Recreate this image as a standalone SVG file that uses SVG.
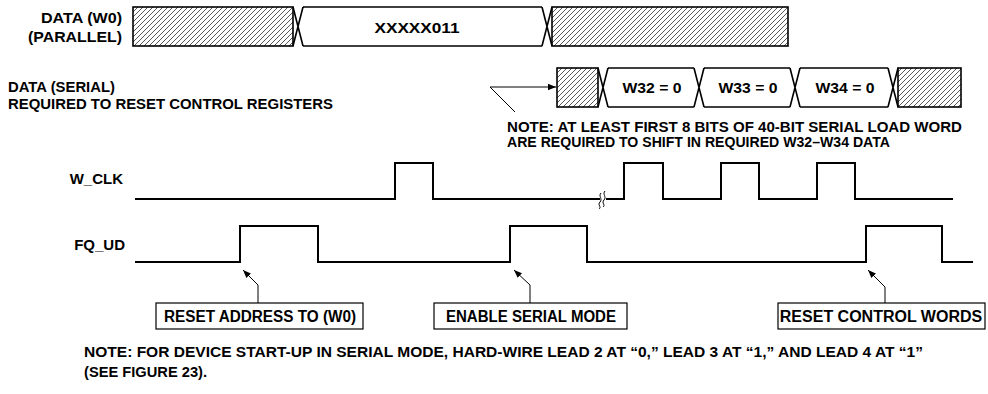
<svg xmlns="http://www.w3.org/2000/svg" width="988" height="394" viewBox="0 0 988 394">
<defs>
<pattern id="hatch" patternUnits="userSpaceOnUse" width="5" height="5">
<path d="M0,5 L5,0 M-1,1 L1,-1 M4,6 L6,4" stroke="#444" stroke-width="0.9"/>
</pattern>
<marker id="arr" viewBox="0 0 10 10" refX="10" refY="5" markerWidth="8" markerHeight="8" orient="auto" markerUnits="userSpaceOnUse">
<path d="M0,1 L10,5 L0,9 Z" fill="#000"/>
</marker>
</defs>
<style>
text{font-family:"Liberation Sans",Arial,sans-serif;font-weight:bold;font-size:15px;fill:#000}
.bus{fill:none;stroke:#000;stroke-width:1.6}
.hx{fill:url(#hatch);stroke:#000;stroke-width:1.6}
.sig{fill:none;stroke:#000;stroke-width:2}
.lead{fill:none;stroke:#000;stroke-width:1}
.box{fill:#fff;stroke:#000;stroke-width:1.2}
.bt{font-size:16px;text-anchor:middle}
.mid{text-anchor:middle}
.end{text-anchor:end}
.note{font-size:14px}
</style>
<rect width="988" height="394" fill="#fff"/>

<g id="labels">
<text class="end" x="122" y="23" font-size="16" textLength="81" lengthAdjust="spacingAndGlyphs">DATA (W0)</text>
<text class="end" x="122" y="42" font-size="16" textLength="94" lengthAdjust="spacingAndGlyphs">(PARALLEL)</text>
<text x="8" y="92" textLength="107" lengthAdjust="spacingAndGlyphs">DATA (SERIAL)</text>
<text x="8" y="109" textLength="325" lengthAdjust="spacingAndGlyphs">REQUIRED TO RESET CONTROL REGISTERS</text>
<text class="end" x="123" y="184">W_CLK</text>
<text class="end" x="125" y="250">FQ_UD</text>
</g>

<g id="parallel-bus">
<rect class="hx" x="133" y="7" width="160" height="39"/>
<path class="bus" d="M293,7 L303,46 M293,46 L303,7 M303,7 L542,7 M303,46 L542,46 M542,7 L552,46 M542,46 L552,7"/>
<rect class="hx" x="552" y="7" width="236" height="39"/>
<text class="mid" x="417" y="33" textLength="85" lengthAdjust="spacingAndGlyphs">XXXXX011</text>
</g>

<g id="serial-bus">
<rect class="hx" x="557" y="68" width="41" height="39"/>
<path class="bus" d="M598,68 L608,107 M598,107 L608,68 M608,68 L694,68 M608,107 L694,107 M694,68 L704,107 M694,107 L704,68 M704,68 L790,68 M704,107 L790,107 M790,68 L800,107 M790,107 L800,68 M800,68 L888,68 M800,107 L888,107 M888,68 L898,107 M888,107 L898,68"/>
<rect class="hx" x="898" y="68" width="63" height="39"/>
<text class="mid" x="652" y="93" textLength="59" lengthAdjust="spacingAndGlyphs">W32 = 0</text>
<text class="mid" x="748" y="93" textLength="59" lengthAdjust="spacingAndGlyphs">W33 = 0</text>
<text class="mid" x="845" y="93" textLength="59" lengthAdjust="spacingAndGlyphs">W34 = 0</text>
</g>

<g id="note-serial">
<text class="note" x="507" y="132" textLength="455" lengthAdjust="spacingAndGlyphs">NOTE: AT LEAST FIRST 8 BITS OF 40-BIT SERIAL LOAD WORD</text>
<text class="note" x="507" y="147" textLength="383" lengthAdjust="spacingAndGlyphs">ARE REQUIRED TO SHIFT IN REQUIRED W32–W34 DATA</text>
</g>

<g id="w_clk">
<path class="sig" d="M135,199 L395,199 L395,163 L433,163 L433,199 L600,199"/>
<path class="sig" d="M606,199 L624,199 L624,163 L663,163 L663,199 L721,199 L721,163 L759,163 L759,199 L817,199 L817,163 L855,163 L855,199 L953,199"/>
<path class="lead" stroke-width="1.3" d="M601,193 C598,196 603,199 600,202 C597,205 602,207 599,209 M605,191 C602,194 607,197 604,200 C601,203 606,205 603,207"/>
</g>

<g id="fq_ud">
<path class="sig" d="M135,262 L240,262 L240,226 L318,226 L318,262 L510,262 L510,226 L587,226 L587,262 L866,262 L866,226 L942,226 L942,262 L973,262"/>
</g>

<g id="connectors">
<path class="lead" d="M515,112 L490,87 L556,87" marker-end="url(#arr)"/>
<path class="lead" d="M258,303 L258,285 L243,270" marker-end="url(#arr)"/>
<path class="lead" d="M530,303 L530,285 L514,270" marker-end="url(#arr)"/>
<path class="lead" d="M885,303 L885,287 L868,270" marker-end="url(#arr)"/>
</g>

<g id="box-reset-address">
<rect class="box" x="156" y="303" width="207" height="26"/>
<text class="bt" x="260" y="322" textLength="192" lengthAdjust="spacingAndGlyphs">RESET ADDRESS TO (W0)</text>
</g>
<g id="box-enable-serial">
<rect class="box" x="434" y="303" width="193" height="26"/>
<text class="bt" x="531" y="322" textLength="170" lengthAdjust="spacingAndGlyphs">ENABLE SERIAL MODE</text>
</g>
<g id="box-reset-control">
<rect class="box" x="778" y="303" width="207" height="26"/>
<text class="bt" x="881" y="322">RESET CONTROL WORDS</text>
</g>

<g id="note-bottom">
<text class="note" x="84" y="357" textLength="839" lengthAdjust="spacingAndGlyphs">NOTE: FOR DEVICE START-UP IN SERIAL MODE, HARD-WIRE LEAD 2 AT “0,” LEAD 3 AT  “1,” AND LEAD 4 AT “1”</text>
<text class="note" x="84" y="377" textLength="123" lengthAdjust="spacingAndGlyphs">(SEE FIGURE 23).</text>
</g>
</svg>
